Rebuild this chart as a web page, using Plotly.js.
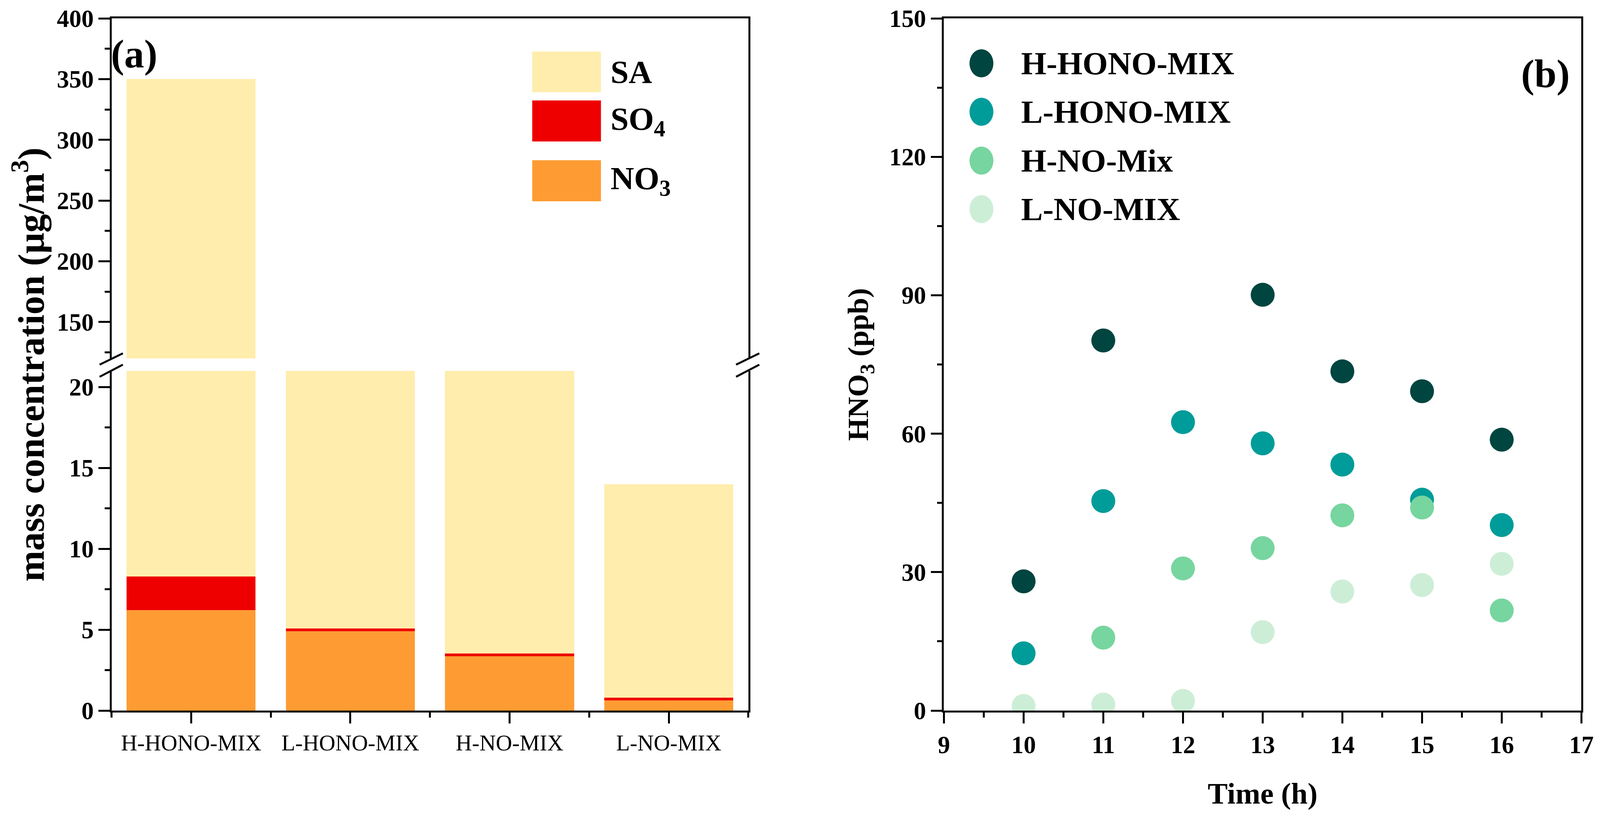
<!DOCTYPE html>
<html>
<head>
<meta charset="utf-8">
<script src="https://cdn.plot.ly/plotly-3.0.1.min.js"></script>
<style>
  html, body { margin: 0; padding: 0; background: #fff; overflow: hidden; }
  #chart_container { width: 100vw; height: 100vh; }
</style>
</head>
<body>
<div id="chart_container"></div>
<script>
// ---- data (panel a) ----
var categories = ['H-HONO-MIX', 'L-HONO-MIX', 'H-NO-MIX', 'L-NO-MIX'];
var no3 = [6.2, 4.9, 3.35, 0.63];
var so4 = [2.1, 0.18, 0.18, 0.17];
var sa = [341.7, 15.92, 17.47, 13.2];
var componentNames = ['NO<sub>3</sub>', 'SO<sub>4</sub>', 'SA'];
var componentColors = ['#fe9c33', '#ee0000', '#feedac'];

// ---- data (panel b) ----
var hours = [10, 11, 12, 13, 14, 15, 16];
var hHonoMix = [28.0, 80.2, null, 90.1, 73.5, 69.2, 58.7];
var lHonoMix = [12.4, 45.4, 62.5, 57.9, 53.3, 45.7, 40.2];
var hNoMix = [null, 15.8, 30.8, 35.2, 42.3, 44.0, 21.7];
var lNoMix = [1.0, 1.3, 2.1, 17.0, 25.8, 27.2, 31.8];
var seriesNames = ['H-HONO-MIX', 'L-HONO-MIX', 'H-NO-Mix', 'L-NO-MIX'];
var seriesColors = ['#004540', '#009c99', '#77d59f', '#cdeed6'];

// ---- the design was measured on a 4819 x 2098 canvas; scale to the window ----
var REF_W = 4819, REF_H = 2098;
var W = window.innerWidth, H = window.innerHeight;
var s = W / REF_W;      // horizontal scale (used for most sizes)
var sv = H / REF_H;     // vertical scale (used for rotated titles)
function px(v) { return v * s; }
function fx(p) { return p / REF_W; }
function fy(p) { return 1 - p / REF_H; }

var FONT = 'Liberation Serif, "Times New Roman", serif';
var BLACK = '#000';

var xIdx = categories.map(function(c, i) { return i; });
var stacks = [no3, so4, sa];

var traces = [];
// lower and upper part of the broken axis share the same stacks
[['x', 'y'], ['x2', 'y2']].forEach(function(ax) {
	stacks.forEach(function(vals, k) {
		traces.push({
			type: 'bar',
			x: xIdx,
			y: vals,
			name: componentNames[k],
			xaxis: ax[0],
			yaxis: ax[1],
			marker: { color: componentColors[k], line: { width: 0 } },
			showlegend: false,
			hoverinfo: 'skip'
		});
	});
});

var scatterSeries = [hHonoMix, lHonoMix, hNoMix, lNoMix];
scatterSeries.forEach(function(vals, k) {
	traces.push({
		type: 'scatter',
		mode: 'markers',
		x: hours,
		y: vals,
		name: seriesNames[k],
		xaxis: 'x3',
		yaxis: 'y3',
		marker: { size: px(72), color: seriesColors[k], line: { width: 0 } },
		showlegend: false
	});
});

var tickCommon = {
	ticks: 'outside',
	ticklen: px(33),
	tickwidth: px(6),
	tickcolor: BLACK,
	showline: true,
	linewidth: px(6),
	linecolor: BLACK,
	showgrid: false,
	zeroline: false,
	fixedrange: true,
	ticklabelstandoff: px(20)
};
function axis(extra) { return Object.assign({}, tickCommon, extra); }
var minorStyle = { ticks: 'outside', ticklen: px(15), tickwidth: px(6), tickcolor: BLACK, showgrid: false };
var boldTick = { family: FONT, size: px(74), color: BLACK, weight: 'bold' };
function boldFont(size) { return { family: FONT, size: px(size), color: BLACK, weight: 'bold' }; }

var leftX = [fx(336), fx(2254)];
var rightX = [fx(2843), fx(4763)];

var layout = {
	width: W,
	height: H,
	margin: { l: 0, r: 0, t: 0, b: 0 },
	paper_bgcolor: '#fff',
	plot_bgcolor: 'rgba(0,0,0,0)',
	barmode: 'stack',
	bargap: 0.19,
	showlegend: false,
	font: { family: FONT, color: BLACK },

	xaxis: axis({
		domain: leftX, anchor: 'y', range: [-0.5, 3.5],
		tickmode: 'array', tickvals: xIdx, ticktext: categories,
		tickfont: { family: FONT, size: px(68), color: BLACK },
		minor: Object.assign({ tickmode: 'array', tickvals: [-0.5, 0.5, 1.5, 2.5, 3.5] }, minorStyle)
	}),
	xaxis2: {
		domain: leftX, anchor: 'y2', side: 'top', matches: 'x', range: [-0.5, 3.5],
		showline: true, linewidth: px(6), linecolor: BLACK, ticks: '', showticklabels: false,
		showgrid: false, zeroline: false, fixedrange: true
	},
	yaxis: axis({
		domain: [fy(1818), fy(949)], anchor: 'x', range: [0, 21],
		tick0: 0, dtick: 5, mirror: true, tickfont: boldTick,
		minor: Object.assign({ tick0: 0, dtick: 2.5 }, minorStyle)
	}),
	yaxis2: axis({
		domain: [fy(917), fy(47)], anchor: 'x2', range: [120, 400],
		tick0: 0, dtick: 50, mirror: true, tickfont: boldTick,
		minor: Object.assign({ tick0: 0, dtick: 25 }, minorStyle)
	}),

	xaxis3: axis({
		domain: rightX, anchor: 'y3', range: [9, 17],
		tick0: 9, dtick: 1, mirror: true, tickfont: boldTick,
		minor: Object.assign({ tick0: 9, dtick: 0.5 }, minorStyle),
		title: { text: 'Time (h)', font: boldFont(90), standoff: px(76) }
	}),
	yaxis3: axis({
		domain: [fy(1818), fy(47)], anchor: 'x3', range: [0, 150],
		tick0: 0, dtick: 30, mirror: true, tickfont: boldTick,
		minor: Object.assign({ tick0: 0, dtick: 15 }, minorStyle),
		title: {
			text: 'HNO<sub>3</sub> (ppb)',
			font: { family: FONT, size: 75 * sv, color: BLACK, weight: 'bold' },
			standoff: px(36)
		}
	}),

	shapes: [],
	annotations: []
};

// break marks on the left and right edges of panel (a)
[0, 1917].forEach(function(dx) {
	[[933, 904], [964, 933]].forEach(function(yy) {
		layout.shapes.push({
			type: 'line', xref: 'paper', yref: 'paper',
			x0: fx(300 + dx), y0: fy(yy[0]), x1: fx(370 + dx), y1: fy(yy[1]),
			line: { color: BLACK, width: px(6) }
		});
	});
});

// legend of panel (a): SA, SO4, NO3 from top
var legA = [
	{ k: 2, top: 132, bottom: 236 },
	{ k: 1, top: 257, bottom: 362 },
	{ k: 0, top: 410, bottom: 515 }
];
legA.forEach(function(it) {
	layout.shapes.push({
		type: 'rect', xref: 'paper', yref: 'paper',
		x0: fx(1603), x1: fx(1810), y0: fy(it.bottom), y1: fy(it.top),
		fillcolor: componentColors[it.k], line: { width: 0 }
	});
	layout.annotations.push({
		xref: 'paper', yref: 'paper', x: fx(1836), y: fy((it.top + it.bottom) / 2),
		xanchor: 'left', yanchor: 'middle', showarrow: false,
		text: componentNames[it.k],
		font: boldFont(98)
	});
});

// legend of panel (b)
var legBy = [162, 286, 411, 535];
seriesNames.forEach(function(name, k) {
	layout.shapes.push({
		type: 'circle', xref: 'paper', yref: 'paper',
		x0: fx(2956 - 36), x1: fx(2956 + 36), y0: fy(legBy[k] + 36), y1: fy(legBy[k] - 36),
		fillcolor: seriesColors[k], line: { width: 0 }
	});
	layout.annotations.push({
		xref: 'paper', yref: 'paper', x: fx(3073), y: fy(legBy[k]),
		xanchor: 'left', yanchor: 'middle', showarrow: false,
		text: name,
		font: boldFont(98)
	});
});

// y title of panel (a), spanning both parts of the broken axis
layout.annotations.push({
	xref: 'paper', yref: 'paper', x: fx(86), y: fy(933),
	xanchor: 'center', yanchor: 'middle', showarrow: false, textangle: -90,
	text: 'mass concentration (\u03bcg/m<sup>3</sup>)',
	font: { family: FONT, size: 95 * sv, color: BLACK, weight: 'bold' }
});

// panel labels
layout.annotations.push({
	xref: 'paper', yref: 'paper', x: fx(404), y: fy(138),
	xanchor: 'center', yanchor: 'middle', showarrow: false,
	text: '(a)', font: boldFont(120)
});
layout.annotations.push({
	xref: 'paper', yref: 'paper', x: fx(4655), y: fy(188),
	xanchor: 'center', yanchor: 'middle', showarrow: false,
	text: '(b)', font: boldFont(120)
});

Plotly.newPlot('chart_container', traces, layout, { displayModeBar: false, responsive: false });
</script>
</body>
</html>
